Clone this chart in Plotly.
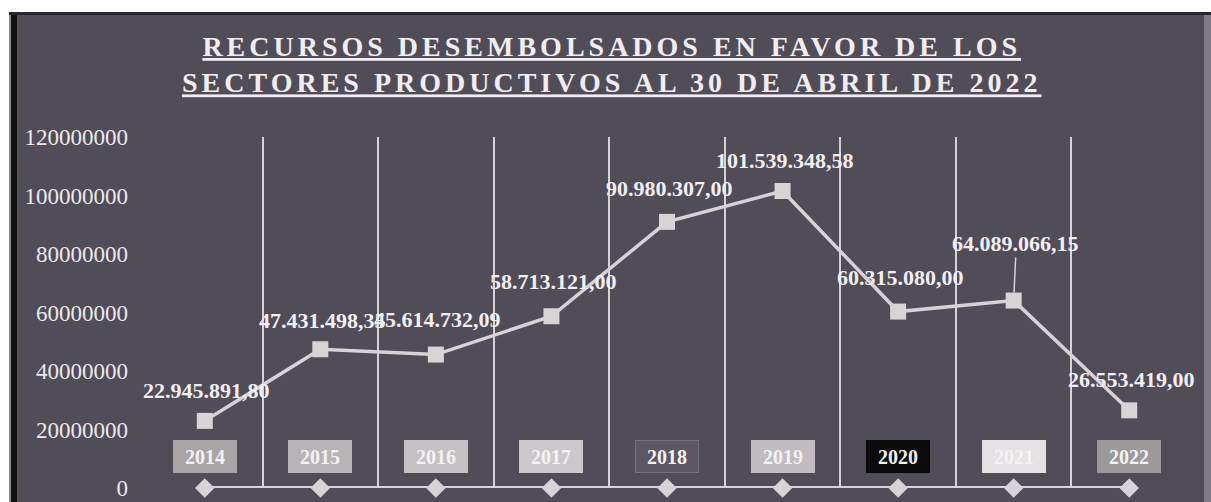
import plotly.graph_objects as go

# ---- data ----
years = ["2014", "2015", "2016", "2017", "2018", "2019", "2020", "2021", "2022"]
values = [22945891.80, 47431498.35, 45614732.09, 58713121.00, 90980307.00,
          101539348.58, 60315080.00, 64089066.15, 26553419.00]
value_labels = ["22.945.891,80", "47.431.498,35", "45.614.732,09", "58.713.121,00",
                "90.980.307,00", "101.539.348,58", "60.315.080,00", "64.089.066,15",
                "26.553.419,00"]
baseline = [0, 0, 0, 0, 0, 0, 0, 0, 0]
y_ticks = [0, 20000000, 40000000, 60000000, 80000000, 100000000, 120000000]
title_lines = ["RECURSOS DESEMBOLSADOS EN FAVOR DE LOS",
               "SECTORES PRODUCTIVOS AL 30 DE ABRIL DE 2022"]

# ---- style ----
W, H = 1211, 502
L, R, T, B = 147, 24, 137, 14
PW, PH = W - L - R, H - T - B
BG = "#504c58"
LINE = "#d6d2d6"
box_colors = ["#a9a5a7", "#b8b3b6", "#c4c0c3", "#cbc7ca", "#5c5862",
              "#c0bcbf", "#0b0b0b", "#e4e2e4", "#9b9999"]
label_shift = [30, 29, 35, 35, 33, 31, 34, 43, 31]

def px(x):
    return (x - L) / PW

def py(y):
    return (H - B - y) / PH

xs = list(range(len(years)))

fig = go.Figure()
fig.add_trace(go.Scatter(
    x=xs, y=baseline, mode="lines+markers",
    line=dict(color=LINE, width=4),
    marker=dict(symbol="diamond", size=15, color=LINE),
    cliponaxis=False, hoverinfo="skip", showlegend=False))
fig.add_trace(go.Scatter(
    x=xs, y=values, mode="lines+markers",
    line=dict(color=LINE, width=3.5),
    marker=dict(symbol="square", size=16, color="#d8d4d6"),
    cliponaxis=False, showlegend=False))

LBL_FONT = dict(family="Liberation Serif", size=22, color="#f2eef2")
ann = []
for i, (x, v, t) in enumerate(zip(xs, values, value_labels)):
    if years[i] == "2021":
        ann.append(dict(x=x, y=v, text="<b>%s</b>" % t, showarrow=True, arrowhead=0,
                        arrowwidth=1.5, arrowcolor=LINE, ax=2, ay=-label_shift[i],
                        standoff=8, yanchor="bottom", font=LBL_FONT))
    else:
        ann.append(dict(x=x, y=v, text="<b>%s</b>" % t, showarrow=False,
                        yshift=label_shift[i], xshift=2, font=LBL_FONT))
for x, yr, c in zip(xs, years, box_colors):
    ann.append(dict(x=x, xref="x", y=py(456), yref="paper", text="<b>%s</b>" % yr,
                    showarrow=False, bgcolor=c, width=60, height=29, yanchor="middle",
                    bordercolor="#76717c" if c == "#5c5862" else c, borderwidth=1,
                    font=dict(family="Liberation Serif", size=20, color="#f4f2f4")))
title_txt = "<br>".join("<u>%s</u>" % s for s in title_lines)
ann.append(dict(x=px(611), y=py(64), xref="paper", yref="paper", showarrow=False,
                text="<b><span style='letter-spacing:4px'>%s</span></b>" % title_txt,
                xanchor="center", yanchor="middle", align="center",
                font=dict(family="Liberation Serif", size=28, color="#f0ecf0")))

shapes = [
    dict(type="rect", xref="paper", yref="paper", x0=px(0), x1=px(W), y0=py(0), y1=py(12),
         fillcolor="white", line_width=0, layer="below"),
    dict(type="rect", xref="paper", yref="paper", x0=px(0), x1=px(9), y0=py(0), y1=py(H),
         fillcolor="white", line_width=0, layer="below"),
    dict(type="rect", xref="paper", yref="paper", x0=px(9), x1=px(11), y0=py(12), y1=py(H),
         fillcolor="#8a8a8a", line_width=0, layer="below"),
    dict(type="rect", xref="paper", yref="paper", x0=px(11), x1=px(17), y0=py(12), y1=py(H),
         fillcolor="#111111", line_width=0, layer="below"),
    dict(type="rect", xref="paper", yref="paper", x0=px(9), x1=px(W), y0=py(12), y1=py(15),
         fillcolor="#2a2630", line_width=0, layer="below"),
    dict(type="rect", xref="paper", yref="paper", x0=px(1204), x1=px(W), y0=py(15), y1=py(H),
         fillcolor="#7e7a86", line_width=0, layer="below"),
]

fig.update_layout(
    width=W, height=H,
    margin=dict(l=L, r=R, t=T, b=B, pad=0, autoexpand=False),
    paper_bgcolor=BG, plot_bgcolor="rgba(0,0,0,0)",
    annotations=ann, shapes=shapes,
    xaxis=dict(range=[-0.5, len(years) - 0.5], tickvals=[i - 0.5 for i in range(len(years) + 1)],
               showticklabels=False, showgrid=True, gridcolor="#d8d2d6", gridwidth=2,
               zeroline=False, showline=False, ticks="", automargin=False),
    yaxis=dict(range=[0, 120000000], tickvals=y_ticks, ticktext=[str(v) for v in y_ticks],
               showgrid=False, zeroline=False, showline=False, ticks="", automargin=False,
               ticklabelstandoff=18,
               tickfont=dict(family="Liberation Serif", size=23, color="#ece8ec")),
    font=dict(family="Liberation Serif"),
)

fig.write_html("out.html", config={"displayModeBar": False},
               post_script="document.body.style.margin='0';document.body.style.overflow='hidden';")
